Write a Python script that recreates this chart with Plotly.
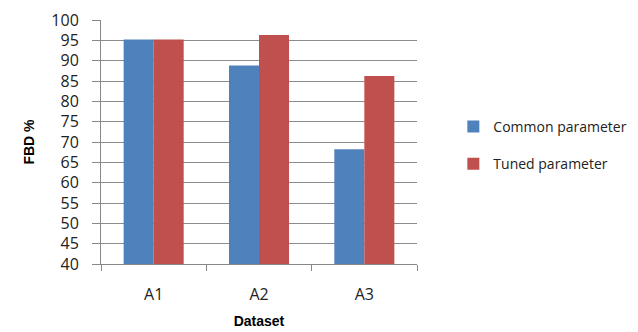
import plotly.graph_objects as go

categories = ["A1", "A2", "A3"]
common_parameter = [95.2, 88.8, 68.2]
tuned_parameter = [95.2, 96.3, 86.2]
y_ticks = list(range(40, 101, 5))

BLUE = "#4F81BD"
RED = "#C0504D"
TICK_FONT = dict(family="Open Sans", size=16, color="#222222")

fig = go.Figure()
fig.add_trace(go.Bar(x=categories, y=common_parameter, name="Common parameter",
                     marker=dict(color=BLUE, line=dict(width=0)), legendgroup="a"))
fig.add_trace(go.Bar(x=categories, y=tuned_parameter, name="Tuned parameter",
                     marker=dict(color=RED, line=dict(width=0)), legendgroup="b"))

# page body has an 8px margin, so the figure is sized/offset to compensate
fig.update_layout(
    width=630, height=324,
    margin=dict(l=93, r=221, t=12, b=68, autoexpand=False),
    paper_bgcolor="white", plot_bgcolor="white",
    barmode="group", bargap=0.43, bargroupgap=0,
    showlegend=True,
    legend=dict(x=1.115, y=0.486, xanchor="left", yanchor="middle",
                font=dict(family="Open Sans", size=14, color="#222222"),
                tracegroupgap=16, traceorder="grouped", bgcolor="rgba(0,0,0,0)"),
    xaxis=dict(title=dict(text="<b>Dataset</b>", font=dict(family="Liberation Sans", size=14, color="black"), standoff=11),
               tickfont=TICK_FONT, showline=True, linecolor="#888888", linewidth=1,
               showgrid=False, mirror=False, ticklabelstandoff=16),
    yaxis=dict(title=dict(text="<b>FBD %</b>", font=dict(family="Liberation Sans", size=14, color="black"), standoff=13),
               range=[40, 100], tickvals=y_ticks, tickfont=TICK_FONT,
               showline=True, linecolor="#888888", linewidth=1,
               ticks="outside", ticklen=8, tickcolor="#888888", ticklabelstandoff=10,
               showgrid=True, gridcolor="#8c8c8c", gridwidth=1, zeroline=False),
)

# category-boundary tick marks on the x axis
fig.update_xaxes(ticks="outside", ticklen=6, tickcolor="#888888", tickson="boundaries")

fig.write_html("out.html")
